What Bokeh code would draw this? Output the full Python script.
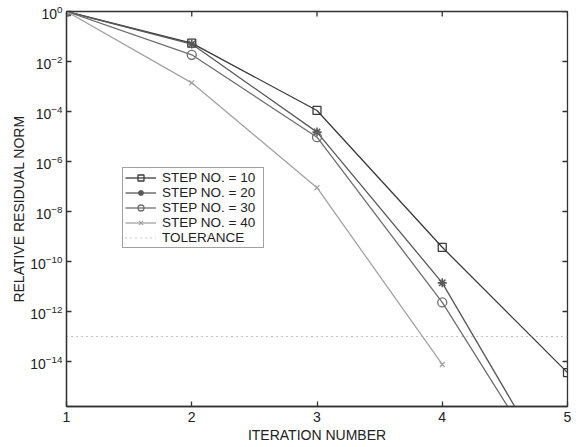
import math
from bokeh.plotting import figure
from bokeh.models import Range1d, FixedTicker, Legend, LegendItem, LogTickFormatter
from bokeh.embed import file_html
from bokeh.resources import INLINE

# ---- data ----
iterations = [1, 2, 3, 4, 5]
step10 = [1.0, 5.4e-2, 1.1e-4, 3.7e-10, 3.6e-15]
step20 = [1.0, 5.0e-2, 1.5e-5, 1.4e-11, 4.0e-20]
step30 = [1.0, 1.85e-2, 9.4e-6, 2.3e-12, 2.5e-20]
iter40 = [1, 2, 3, 4]
step40 = [1.0, 1.4e-3, 9.0e-8, 7.6e-15]
tolerance = 1e-13
x_ticks = [1, 2, 3, 4, 5]
y_ticks = [1e0, 1e-2, 1e-4, 1e-6, 1e-8, 1e-10, 1e-12, 1e-14]
labels = ["STEP NO. = 10", "STEP NO. = 20", "STEP NO. = 30", "STEP NO. = 40", "TOLERANCE"]

FONT = "Liberation Sans"
AX = "#333333"
Y_MIN, Y_MAX = 10 ** -15.8, 1.0
X_MIN, X_MAX = 1, 5

p = figure(width=584, height=447, output_backend="svg", toolbar_location=None,
           y_axis_type="log", x_range=Range1d(X_MIN, X_MAX), y_range=Range1d(Y_MIN, Y_MAX),
           min_border_left=66, min_border_right=17, min_border_top=11, min_border_bottom=41)
p.xgrid.visible = False
p.ygrid.visible = False
p.outline_line_color = AX
p.outline_line_width = 1.3
p.background_fill_color = "white"
p.border_fill_color = "white"

def style_axis(ax):
    ax.axis_line_color = AX
    ax.axis_line_width = 1.3
    ax.major_tick_line_color = AX
    ax.major_tick_line_width = 1.3
    ax.major_tick_in = 5
    ax.major_tick_out = 0
    ax.minor_tick_line_color = None
    ax.major_label_text_font = FONT
    ax.major_label_text_font_size = "14px"
    ax.major_label_text_color = "#222222"
    ax.axis_label_text_font = FONT
    ax.axis_label_text_font_size = "14px"
    ax.axis_label_text_font_style = "normal"
    ax.axis_label_text_color = "#222222"

xa = p.xaxis[0]
xa.ticker = FixedTicker(ticks=x_ticks)
style_axis(xa)
xa.major_label_standoff = 5
xa.axis_label = "ITERATION NUMBER"
xa.axis_label_standoff = 2

ya = p.yaxis[0]
ya.ticker = FixedTicker(ticks=y_ticks)
ya.formatter = LogTickFormatter()
style_axis(ya)
ya.major_label_standoff = 4
ya.axis_label = "RELATIVE RESIDUAL NORM"
ya.axis_label_standoff = 0

# inward ticks on the top and right edges of the box (clipped to the frame)
p.scatter(x_ticks, [Y_MAX] * len(x_ticks), marker="dash", angle=math.pi / 2, size=10,
          line_color=AX, line_width=1.3)
p.scatter([X_MAX] * len(y_ticks), y_ticks, marker="dash", size=10,
          line_color=AX, line_width=1.3)

c10, c20, c30, c40 = "#3a3a3a", "#585858", "#6e6e6e", "#a3a3a3"
lw = 1.3

l10 = p.line(iterations, step10, line_color=c10, line_width=lw)
m10 = p.scatter(iterations, step10, marker="square", size=8, fill_color=None, line_color=c10, line_width=1.3)
l20 = p.line(iterations, step20, line_color=c20, line_width=lw)
m20 = p.scatter(iterations, step20, marker="asterisk", size=9, line_color=c20, line_width=1.6)
l30 = p.line(iterations, step30, line_color=c30, line_width=lw)
m30 = p.scatter(iterations, step30, marker="circle", size=9, fill_color=None, line_color=c30, line_width=1.3)
l40 = p.line(iter40, step40, line_color=c40, line_width=lw)
m40 = p.scatter(iter40, step40, marker="x", size=7, line_color=c40, line_width=1.3)

tol = p.line([X_MIN, X_MAX], [tolerance, tolerance], line_color="#8a8a8a", line_width=1.2, line_dash="1 4")

legend = Legend(items=[
    LegendItem(label=labels[0], renderers=[l10, m10]),
    LegendItem(label=labels[1], renderers=[l20, m20]),
    LegendItem(label=labels[2], renderers=[l30, m30]),
    LegendItem(label=labels[3], renderers=[l40, m40]),
    LegendItem(label=labels[4], renderers=[tol]),
], location=(56, 158))
legend.label_text_font = FONT
legend.label_text_font_size = "13.5px"
legend.label_text_line_height = 1.0
legend.label_text_color = "#222222"
legend.label_height = 15
legend.label_width = 99
legend.glyph_height = 15
legend.glyph_width = 31
legend.label_standoff = 6
legend.spacing = 0
legend.padding = 2
legend.margin = 0
legend.border_line_color = "#444444"
legend.border_line_width = 1
legend.background_fill_color = "white"
legend.background_fill_alpha = 1
p.add_layout(legend, "center")

open("out.html", "w").write(file_html(p, INLINE))
